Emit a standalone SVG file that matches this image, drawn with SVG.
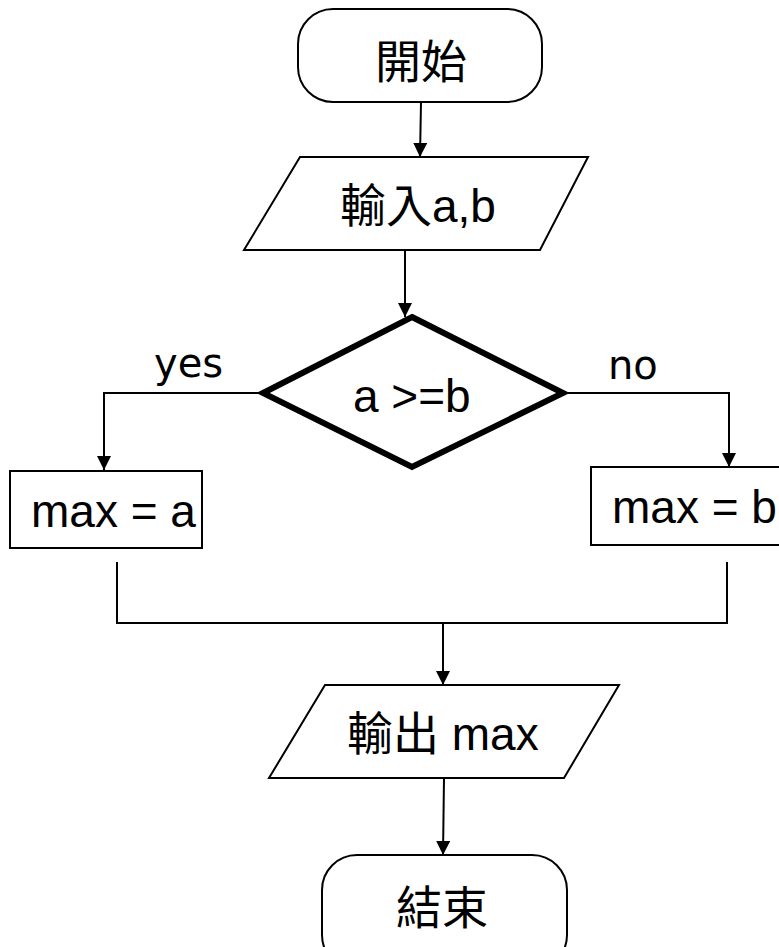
<svg xmlns="http://www.w3.org/2000/svg" width="779" height="947" viewBox="0 0 779 947">
<style>
.sh{fill:#fff;stroke:#000;stroke-width:2}
.dia{fill:#fff;stroke:#000;stroke-width:6;stroke-linejoin:miter}
.t{font-family:"Liberation Sans","Noto Sans CJK TC",sans-serif;font-size:46px;fill:#000}
.lb{font-family:"DejaVu Sans",sans-serif;font-size:40px;fill:#000}
.c{fill:none;stroke:#000;stroke-width:2}
</style>
<defs>
<marker id="ah" markerUnits="userSpaceOnUse" markerWidth="14" markerHeight="14" refX="14" refY="7" orient="auto">
<path d="M0,0 L14,7 L0,14 z" fill="#000"/>
</marker>
</defs>
<g id="connectors">
<path class="c" d="M421,102 L420,157" marker-end="url(#ah)"/>
<path class="c" d="M405,250 L405,317" marker-end="url(#ah)"/>
<path class="c" d="M263,393 H104 V470" marker-end="url(#ah)"/>
<path class="c" d="M563,393 H729 V467" marker-end="url(#ah)"/>
<path class="c" d="M117,562 V623 H727 V562"/>
<path class="c" d="M443,623 V685" marker-end="url(#ah)"/>
<path class="c" d="M444,778 L443,855" marker-end="url(#ah)"/>
<text class="lb" x="154" y="377">yes</text>
<text class="lb" x="608" y="379">no</text>
</g>
<g id="start">
<rect class="sh" x="298" y="9" width="244" height="93" rx="35"/>
<text class="t" x="421" y="78" text-anchor="middle">開始</text>
</g>
<g id="input">
<polygon class="sh" points="300,157 588,157 540,250 244,250"/>
<text class="t" x="340" y="222">輸入a,b</text>
</g>
<g id="decision">
<polygon class="dia" points="412,317 563,393 412,467 263,393"/>
<text class="t" x="353" y="412">a &gt;=b</text>
</g>
<g id="maxa">
<rect class="sh" x="10" y="471" width="192" height="77"/>
<text class="t" x="31" y="527">max = a</text>
</g>
<g id="maxb">
<rect class="sh" x="591" y="467" width="200" height="78"/>
<text class="t" x="612" y="523">max = b</text>
</g>
<g id="output">
<polygon class="sh" points="325,685 619,685 564,778 269,778"/>
<text class="t" x="347" y="750">輸出 max</text>
</g>
<g id="end">
<rect class="sh" x="322" y="855" width="245" height="115" rx="35"/>
<text class="t" x="442" y="924" text-anchor="middle">結束</text>
</g>
</svg>
